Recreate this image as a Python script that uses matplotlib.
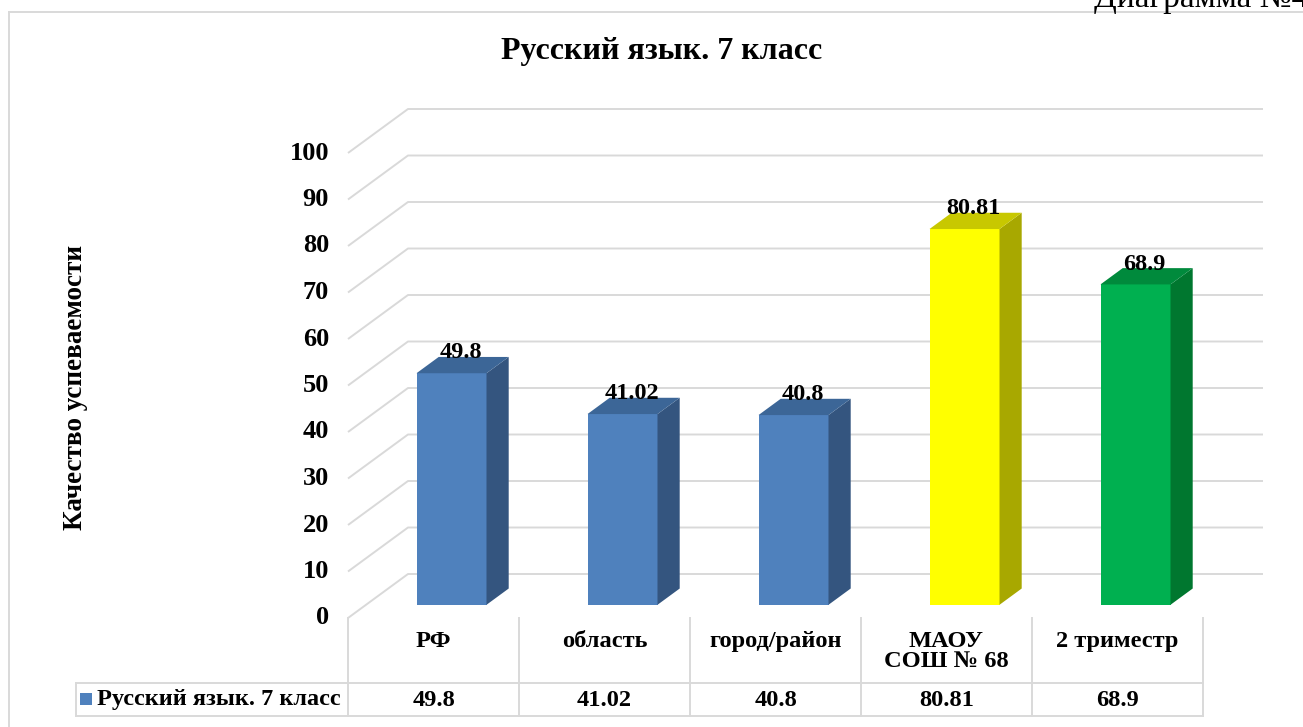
import numpy as np
import matplotlib.pyplot as plt
from matplotlib.patches import Polygon, Rectangle
from matplotlib.lines import Line2D

categories = ['РФ', 'область', 'город/район', 'МАОУ\nСОШ № 68', '2 триместр']
values = [49.8, 41.02, 40.8, 80.81, 68.9]
value_labels = ['49.8', '41.02', '40.8', '80.81', '68.9']
series_name = 'Русский язык. 7 класс'
yticks = np.arange(0, 101, 10)

front_colors = ['#4F81BD', '#4F81BD', '#4F81BD', '#FFFF00', '#00B050']
side_colors = ['#34557F', '#34557F', '#34557F', '#A8A800', '#00772F']
top_colors = ['#3C6697', '#3C6697', '#3C6697', '#C8C800', '#008A3C']

plt.rcParams['font.family'] = ['Liberation Serif', 'DejaVu Serif']
plt.rcParams['font.weight'] = 'bold'

W, H = 1303, 727
fig = plt.figure(figsize=(W / 100, H / 100), dpi=100)
ax = fig.add_axes([0, 0, 1, 1])

# layout in pixels: category columns 171 px wide from x=348, value 0 at y=618
col_w = 171.0
x0 = 348.0
y0 = 618.0
ppu = 4.65
ax.set_xlim(-0.5 - x0 / col_w, -0.5 + (W - x0) / col_w)
ax.set_ylim(-(H - y0) / ppu, y0 / ppu)
ax.axis('off')


def px(x):
    return (x - x0) / col_w - 0.5


def py(y):
    return (y0 - y) / ppu


DX = 60 / col_w
DY = 44 / ppu
n = len(values)
grid_c = '#D9D9D9'

# walls and gridlines
for t in yticks:
    ax.plot([-0.5, -0.5 + DX, n - 0.5 + DX], [t, t + DY, t + DY],
            color=grid_c, lw=1.4, zorder=1, solid_capstyle='butt')
    ax.text(px(329), t, str(t), ha='right', va='center', fontsize=19)

# bars
bw = 70 / col_w
d0 = 0.3
dd = 0.37
for i, v in enumerate(values):
    xl = i - bw / 2 + d0 * DX
    xr = xl + bw
    yb = d0 * DY
    ax.add_patch(Rectangle((xl, yb), bw, v, facecolor=front_colors[i],
                           edgecolor='none', zorder=3))
    ax.add_patch(Polygon([(xr, yb), (xr + dd * DX, yb + dd * DY),
                          (xr + dd * DX, yb + dd * DY + v), (xr, yb + v)],
                         facecolor=side_colors[i], edgecolor='none', zorder=3))
    ax.add_patch(Polygon([(xl, yb + v), (xr, yb + v),
                          (xr + dd * DX, yb + v + dd * DY),
                          (xl + dd * DX, yb + v + dd * DY)],
                         facecolor=top_colors[i], edgecolor='none', zorder=3))
    ax.text(i + 0.45 * DX, v + (d0 + dd) * DY - 0.3, value_labels[i],
            ha='center', va='baseline', fontsize=17.5, zorder=4)

# data table
for k in range(n + 1):
    ax.plot([k - 0.5, k - 0.5], [py(618), py(716)], color=grid_c, lw=1.4)
ax.plot([px(76), px(76)], [py(683), py(716)], color=grid_c, lw=1.4)
for yy in (683, 716):
    ax.plot([px(76), n - 0.5], [py(yy), py(yy)], color=grid_c, lw=1.4)

for i, c in enumerate(categories):
    ax.text(i, py(631), c, ha='center', va='top', fontsize=17.6, linespacing=0.95)
    ax.text(i, py(700), value_labels[i], ha='center', va='center', fontsize=17.6)

ax.add_patch(Rectangle((px(80), py(705)), px(92) - px(80), py(693) - py(705),
                       facecolor='#4F81BD', edgecolor='none'))
ax.text(px(97), py(700), series_name, ha='left', va='center', fontsize=17.5)

ax.text(px(75), py(387), 'Качество успеваемости', rotation=90,
        ha='center', va='center', fontsize=19.5)

fig.text(662 / W, 1 - 52 / H, 'Русский язык. 7 класс', ha='center',
         va='center', fontsize=23)
fig.text(1308 / W, 1 - 7 / H, 'Диаграмма №4', ha='right', va='baseline',
         fontsize=24, fontweight='normal')

fig.add_artist(Line2D([9 / W, 9 / W], [0, 1 - 12 / H], color=grid_c, lw=1.4))
fig.add_artist(Line2D([9 / W, 1], [1 - 12 / H, 1 - 12 / H], color=grid_c, lw=1.4))

fig.savefig('out.png', dpi=100)
